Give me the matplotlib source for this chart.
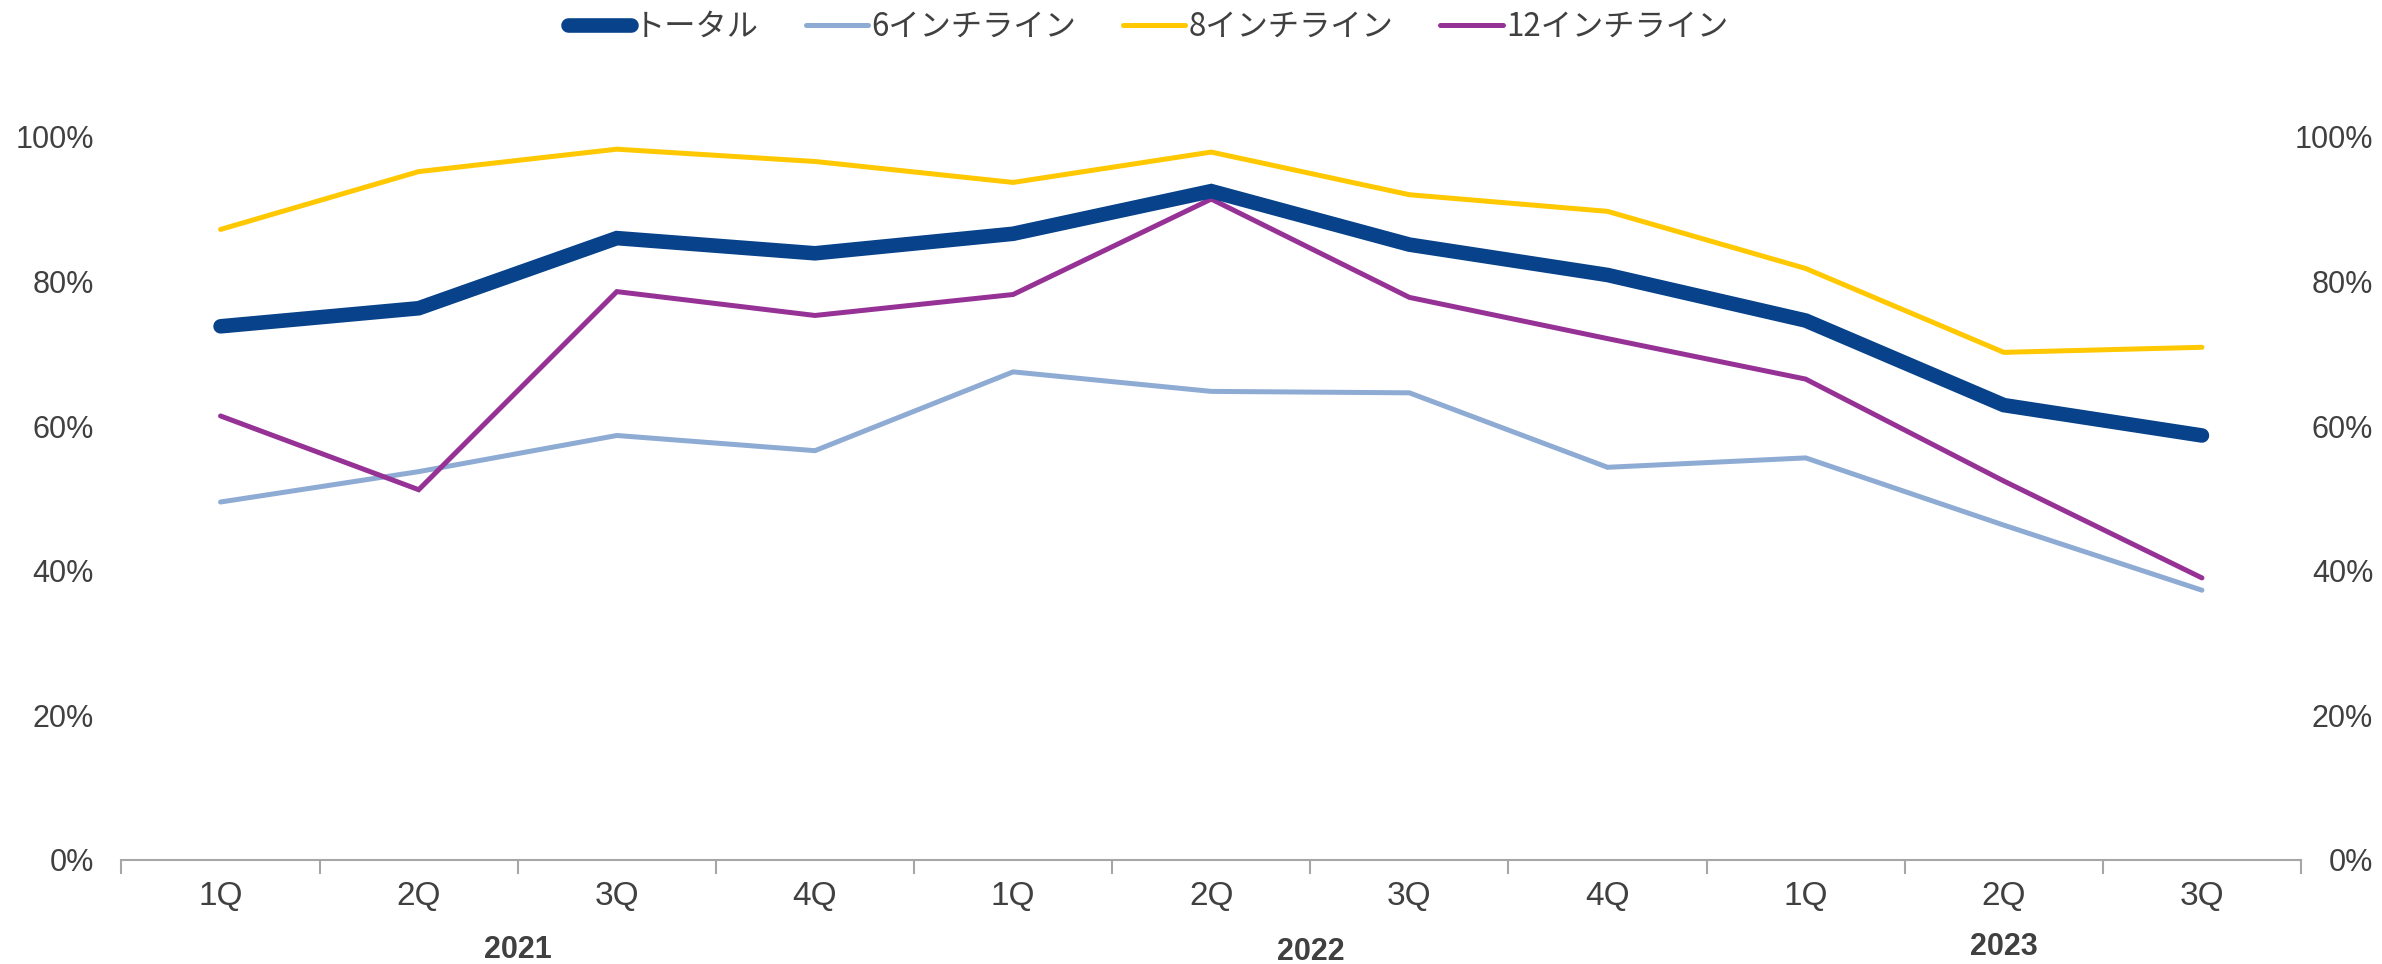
import matplotlib
matplotlib.use("Agg")
import matplotlib.pyplot as plt
from matplotlib.ticker import FixedLocator, PercentFormatter
import matplotlib.transforms as mtransforms

quarters = ["1Q", "2Q", "3Q", "4Q", "1Q", "2Q", "3Q", "4Q", "1Q", "2Q", "3Q"]
years = ["2021", "2022", "2023"]
year_centers = [1.5, 5.5, 9.0]

series_names = ["トータル", "6インチライン", "8インチライン", "12インチライン"]
total = [73.8, 76.3, 86.0, 83.9, 86.6, 92.5, 85.1, 80.9, 74.6, 62.9, 58.7]
inch6 = [49.5, 53.7, 58.7, 56.6, 67.5, 64.8, 64.6, 54.3, 55.6, 46.3, 37.3]
inch8 = [87.2, 95.2, 98.3, 96.6, 93.7, 97.9, 92.0, 89.7, 81.8, 70.2, 70.9]
inch12 = [61.4, 51.2, 78.6, 75.3, 78.2, 91.4, 77.8, 72.1, 66.5, 52.4, 39.0]

colors = ["#07428A", "#8EABD4", "#FFC800", "#963296"]
widths = [10.5, 3.6, 3.6, 3.6]

TXT = "#404040"
NARROW = ["Liberation Sans Narrow", "Liberation Sans", "Noto Sans CJK JP"]

fig = plt.figure(figsize=(23.82, 9.64), dpi=100)
ax = fig.add_axes([0.051, 0.108, 0.915, 0.750])

x = list(range(len(quarters)))
data = [total, inch6, inch8, inch12]
order = [1, 2, 3, 0]
lines = {}
for i in order:
    ln, = ax.plot(x, data[i], color=colors[i], lw=widths[i],
                  solid_capstyle="round", solid_joinstyle="miter",
                  label=series_names[i], zorder=3 if i == 0 else 2)
    lines[i] = ln

ax.set_xlim(-0.5, len(quarters) - 0.5)
ax.set_ylim(0, 100)

for s in ["top", "right", "left"]:
    ax.spines[s].set_visible(False)
ax.spines["bottom"].set_color("#A6A6A6")
ax.spines["bottom"].set_linewidth(1.5)

ax.xaxis.set_major_locator(FixedLocator(x))
ax.set_xticklabels(quarters, family=NARROW, fontsize=24, color=TXT)
ax.xaxis.set_minor_locator(FixedLocator([v - 0.5 for v in range(len(quarters) + 1)]))
ax.tick_params(axis="x", which="major", length=0, pad=15)
ax.tick_params(axis="x", which="minor", length=10, width=1.5, color="#A6A6A6", direction="out")

yt = [0, 20, 40, 60, 80, 100]
ax.set_yticks(yt)
ax.yaxis.set_major_formatter(PercentFormatter(decimals=0))
ax.tick_params(axis="y", length=0, pad=20, labelsize=22, labelcolor=TXT)
for t in ax.get_yticklabels():
    t.set_family("Liberation Sans")

ax2 = ax.twinx()
ax2.set_ylim(0, 100)
for s in ["top", "right", "left", "bottom"]:
    ax2.spines[s].set_visible(False)
ax2.set_yticks(yt)
ax2.yaxis.set_major_formatter(PercentFormatter(decimals=0))
ax2.tick_params(axis="y", length=0, pad=52, labelsize=22, labelcolor=TXT)
for t in ax2.get_yticklabels():
    t.set_family("Liberation Sans")
    t.set_horizontalalignment("right")

trans = mtransforms.blended_transform_factory(ax.transData, ax.transAxes)
year_dy = [-0.125, -0.128, -0.121]
for yr, xc, dy in zip(years, year_centers, year_dy):
    ax.text(xc, dy, yr, transform=trans, ha="center", va="center",
            family=NARROW, fontsize=22, fontweight="bold", color=TXT)

handles = [lines[i] for i in range(4)]
leg = fig.legend(handles, series_names, loc="center", bbox_to_anchor=(0.482, 0.972),
                 ncol=4, frameon=False, handlelength=2.0, handletextpad=0.1,
                 columnspacing=1.5, prop={"family": ["Liberation Sans Narrow", "Noto Sans CJK JP"], "size": 22.5})
for t in leg.get_texts():
    t.set_color(TXT)
for h, w in zip(leg.legend_handles, widths):
    h.set_linewidth(w)
    h.set_solid_capstyle("round")

fig.savefig("out.png", dpi=100)
